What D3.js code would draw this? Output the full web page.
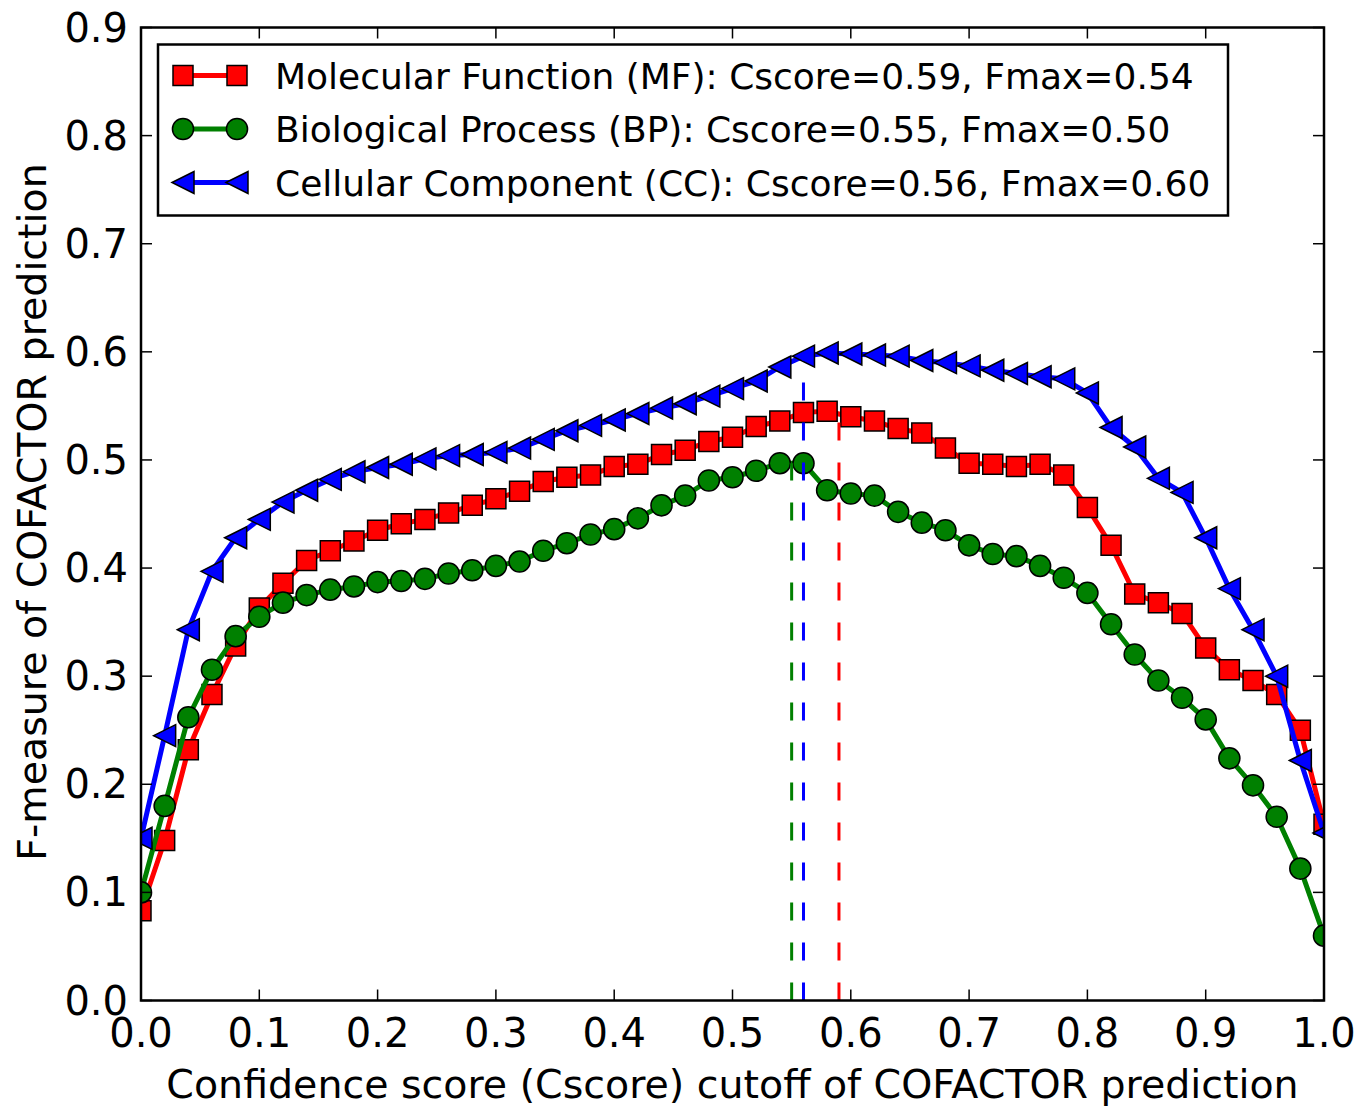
<!DOCTYPE html>
<html>
<head>
<meta charset="utf-8">
<script src="https://cdn.jsdelivr.net/npm/d3@7"></script>
<style>
  body { margin: 0; background: #fff; }
  svg { display: block; font-family: "DejaVu Sans", sans-serif; }
</style>
</head>
<body>
<svg id="chart" width="1371" height="1110"></svg>
<script>
// Cscore cutoffs, one every 0.02
const cutoffs = d3.range(0, 51).map(i => +(i * 0.02).toFixed(2));

// F-measure per cutoff
const mfValues = [0.083, 0.148, 0.232, 0.283, 0.328, 0.363, 0.386, 0.407, 0.416, 0.425,
  0.435, 0.441, 0.445, 0.451, 0.458, 0.464, 0.471, 0.480, 0.484, 0.486,
  0.494, 0.496, 0.505, 0.509, 0.517, 0.521, 0.531, 0.536, 0.544, 0.545,
  0.540, 0.536, 0.529, 0.525, 0.511, 0.497, 0.496, 0.494, 0.496, 0.486,
  0.456, 0.421, 0.376, 0.368, 0.358, 0.326, 0.306, 0.296, 0.283, 0.250, 0.163];

const bpValues = [0.100, 0.180, 0.262, 0.306, 0.337, 0.355, 0.368, 0.375, 0.380, 0.383,
  0.387, 0.388, 0.390, 0.395, 0.398, 0.402, 0.406, 0.416, 0.423, 0.431,
  0.436, 0.446, 0.458, 0.467, 0.481, 0.484, 0.490, 0.497, 0.497, 0.472,
  0.469, 0.467, 0.452, 0.442, 0.435, 0.421, 0.413, 0.411, 0.402, 0.391,
  0.377, 0.348, 0.320, 0.296, 0.280, 0.260, 0.224, 0.199, 0.170, 0.122, 0.060];

const ccValues = [0.150, 0.245, 0.343, 0.397, 0.428, 0.445, 0.461, 0.472, 0.482, 0.489,
  0.493, 0.496, 0.501, 0.504, 0.505, 0.507, 0.511, 0.519, 0.527, 0.532,
  0.537, 0.543, 0.548, 0.552, 0.559, 0.566, 0.573, 0.586, 0.596, 0.599,
  0.598, 0.597, 0.596, 0.592, 0.590, 0.587, 0.583, 0.580, 0.577, 0.575,
  0.562, 0.530, 0.512, 0.483, 0.470, 0.428, 0.381, 0.343, 0.300, 0.222, 0.155];

const seriesNames = ['Molecular Function (MF): Cscore=0.59, Fmax=0.54',
  'Biological Process (BP): Cscore=0.55, Fmax=0.50',
  'Cellular Component (CC): Cscore=0.56, Fmax=0.60'];
const seriesColors = ['#ff0000', '#008000', '#0000ff'];
const seriesMarkers = ['square', 'circle', 'triangleLeft'];
const bestCscore = [0.59, 0.55, 0.56];
const bestFmax = [0.545, 0.497, 0.599];

const xTicks = d3.range(0, 11).map(i => i / 10);
const yTicks = d3.range(0, 10).map(i => i / 10);

const series = [mfValues, bpValues, ccValues].map((vals, k) => ({
  name: seriesNames[k], color: seriesColors[k], marker: seriesMarkers[k],
  points: vals.map((v, i) => ({ x: cutoffs[i], y: v }))
}));

const margin = { left: 141, top: 27.5, right: 47, bottom: 109.5 };
const svg = d3.select('#chart');
const W = 1371, H = 1110;
const width = W - margin.left - margin.right;
const height = H - margin.top - margin.bottom;

const x = d3.scaleLinear().domain([0, 1]).range([0, width]);
const y = d3.scaleLinear().domain([0, 0.9]).range([height, 0]);

const g = svg.append('g').attr('transform', `translate(${margin.left},${margin.top})`);

// marker path generator
function markerPath(type) {
  if (type === 'square') return d3.symbol(d3.symbolSquare, 400)();
  if (type === 'circle') return d3.symbol(d3.symbolCircle, 350)();
  // matplotlib '<'
  return 'M-11,0L11,-11L11,11Z';
}

const line = d3.line().x(d => x(d.x)).y(d => y(d.y));

g.append('clipPath').attr('id', 'clip')
  .append('rect').attr('x', 0).attr('y', 0).attr('width', width).attr('height', height);

const plot = g.append('g').attr('clip-path', 'url(#clip)');

series.forEach(s => {
  plot.append('path')
    .datum(s.points)
    .attr('d', line)
    .attr('fill', 'none')
    .attr('stroke', s.color)
    .attr('stroke-width', 5)
    .attr('stroke-linejoin', 'round');
  plot.append('g').selectAll('path')
    .data(s.points)
    .join('path')
    .attr('transform', d => `translate(${x(d.x)},${y(d.y)})`)
    .attr('d', markerPath(s.marker))
    .attr('fill', s.color)
    .attr('stroke', '#000')
    .attr('stroke-width', 1.5);
});

// dashed lines at best cutoff
bestCscore.forEach((c, k) => {
  plot.append('line')
    .attr('x1', x(c)).attr('x2', x(c))
    .attr('y1', y(0)).attr('y2', y(bestFmax[k]))
    .attr('stroke', seriesColors[k])
    .attr('stroke-width', 3)
    .attr('stroke-dasharray', '18,22');
});

// frame
g.append('rect')
  .attr('width', width).attr('height', height)
  .attr('fill', 'none').attr('stroke', '#000').attr('stroke-width', 2.5);

// inward ticks on all four sides
const tickLen = 11;
const tickG = g.append('g').attr('stroke', '#000').attr('stroke-width', 1.5);
xTicks.forEach(t => {
  tickG.append('line').attr('x1', x(t)).attr('x2', x(t)).attr('y1', height).attr('y2', height - tickLen);
  tickG.append('line').attr('x1', x(t)).attr('x2', x(t)).attr('y1', 0).attr('y2', tickLen);
});
yTicks.forEach(t => {
  tickG.append('line').attr('x1', 0).attr('x2', tickLen).attr('y1', y(t)).attr('y2', y(t));
  tickG.append('line').attr('x1', width).attr('x2', width - tickLen).attr('y1', y(t)).attr('y2', y(t));
});

// tick labels
g.append('g').selectAll('text')
  .data(xTicks).join('text')
  .attr('x', d => x(d)).attr('y', height + 46)
  .attr('text-anchor', 'middle')
  .attr('font-size', 40)
  .text(d => d3.format('.1f')(d));

g.append('g').selectAll('text')
  .data(yTicks).join('text')
  .attr('x', -13).attr('y', d => y(d) + 14)
  .attr('text-anchor', 'end')
  .attr('font-size', 40)
  .text(d => d3.format('.1f')(d));

// axis titles
g.append('text')
  .attr('x', width / 2).attr('y', height + 97)
  .attr('text-anchor', 'middle')
  .attr('font-size', 39.5)
  .text('Confidence score (Cscore) cutoff of COFACTOR prediction');

g.append('text')
  .attr('transform', `translate(${-95},${height / 2 - 2}) rotate(-90)`)
  .attr('text-anchor', 'middle')
  .attr('font-size', 39.5)
  .text('F-measure of COFACTOR prediction');

// legend
const legend = g.append('g').attr('transform', 'translate(17,17)');
legend.append('rect')
  .attr('width', 1070).attr('height', 171)
  .attr('fill', '#fff').attr('stroke', '#000').attr('stroke-width', 2.5);

series.forEach((s, k) => {
  const row = legend.append('g').attr('transform', `translate(0,${31 + k * 53.5})`);
  row.append('line')
    .attr('x1', 25).attr('x2', 79)
    .attr('stroke', s.color).attr('stroke-width', 5);
  [25, 79].forEach(px => {
    row.append('path')
      .attr('transform', `translate(${px},0)`)
      .attr('d', markerPath(s.marker))
      .attr('fill', s.color).attr('stroke', '#000').attr('stroke-width', 1.5);
  });
  row.append('text')
    .attr('x', 117).attr('y', 13)
    .attr('font-size', 36)
    .text(s.name);
});
</script>
</body>
</html>
